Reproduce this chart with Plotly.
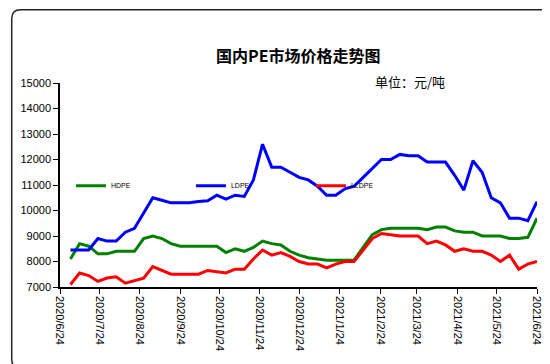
import pandas as pd
import plotly.graph_objects as go

# Weekly dates (Thursdays) from 2020-07-02 to 2021-06-24
dates = pd.date_range("2020-07-02", "2021-06-24", freq="7D").strftime("%Y-%m-%d").tolist()

hdpe = [8100, 8700, 8600, 8300, 8300, 8400, 8400, 8400, 8900, 9000,
        8900, 8700, 8600, 8600, 8600, 8600, 8600, 8350, 8500, 8400,
        8550, 8800, 8700, 8650, 8400, 8250, 8150, 8100, 8050, 8050,
        8050, 8050, 8550, 9050, 9250, 9300, 9300, 9300, 9300, 9250,
        9350, 9350, 9200, 9150, 9150, 9000, 9000, 9000, 8900, 8900,
        8950, 9700]

ldpe = [8450, 8450, 8450, 8900, 8800, 8800, 9150, 9300, 9900, 10500,
        10400, 10300, 10300, 10300, 10350, 10380, 10600, 10450, 10600, 10550,
        11200, 12600, 11700, 11700, 11500, 11300, 11200, 10950, 10600, 10600,
        10850, 10950, 11300, 11650, 12000, 12000, 12200, 12150, 12150, 11900,
        11900, 11900, 11380, 10800, 11950, 11500, 10500, 10300, 9700, 9700,
        9600, 10350]

lldpe = [7100, 7550, 7450, 7220, 7350, 7400, 7150, 7250, 7350, 7800,
         7650, 7500, 7500, 7500, 7500, 7650, 7600, 7550, 7700, 7700,
         8100, 8450, 8250, 8350, 8200, 8000, 7900, 7900, 7750, 7900,
         8000, 8000, 8450, 8900, 9100, 9050, 9000, 9000, 9000, 8700,
         8800, 8650, 8400, 8500, 8400, 8400, 8250, 8000, 8250, 7700,
         7900, 8000]

series_names = ["HDPE", "LDPE", "LLDPE"]
series_colors = ["#008000", "#0000FF", "#FF0000"]
title_text = "国内PE市场价格走势图"
unit_text = "单位：元/吨"
y_ticks = [7000, 8000, 9000, 10000, 11000, 12000, 13000, 14000, 15000]

W, H = 550, 364
L, R, T, B = 50, 21, 75, 84.5
pw = W - L - R
ph = H - T - B

def px(x):
    return (x - L) / pw

def py(y):
    return (H - B - y) / ph

fig = go.Figure()
for name, vals, col in zip(series_names, [hdpe, ldpe, lldpe], series_colors):
    fig.add_trace(go.Scatter(x=dates, y=vals, mode="lines", name=name,
                             line=dict(color=col, width=3)))

# rounded outer frame
x0, x1 = px(1.5), px(547)
y0, y1 = py(361), py(1.5)
rx, ry = 9 / pw, 9 / ph
path = (f"M {x0+rx},{y1} L {x1-rx},{y1} Q {x1},{y1} {x1},{y1-ry} "
        f"L {x1},{y0+ry} Q {x1},{y0} {x1-rx},{y0} L {x0+rx},{y0} "
        f"Q {x0},{y0} {x0},{y0+ry} L {x0},{y1-ry} Q {x0},{y1} {x0+rx},{y1} Z")
fig.add_shape(type="path", path=path, xref="paper", yref="paper",
              line=dict(color="#222222", width=1.5))

fig.add_annotation(text=f"<b>{title_text}</b>", x=px(290), y=py(47), xref="paper", yref="paper",
                   showarrow=False, font=dict(size=16, color="black", family="Noto Sans CJK SC"),
                   xanchor="center", yanchor="middle")
fig.add_annotation(text=unit_text, x=px(401), y=py(73), xref="paper", yref="paper",
                   showarrow=False, font=dict(size=13, color="black", family="Noto Sans CJK SC"),
                   xanchor="center", yanchor="middle")

fig.update_layout(
    width=W, height=H,
    margin=dict(l=L, r=R, t=T, b=B),
    paper_bgcolor="white", plot_bgcolor="white",
    font=dict(family="Liberation Sans, Arial", size=11, color="black"),
    showlegend=True,
    legend=dict(orientation="h", x=px(61), y=py(178), xanchor="left", yanchor="middle",
                bgcolor="rgba(0,0,0,0)", font=dict(size=7, color="black"),
                entrywidth=75, entrywidthmode="pixels", itemwidth=30,
                tracegroupgap=0),
    xaxis=dict(type="date", range=["2020-06-24", "2021-06-24"],
               tick0="2020-06-24", dtick="M1", tickformat="%Y/%-m/%-d",
               tickangle=90, ticks="outside", ticklen=5, tickcolor="black",
               showline=True, linecolor="black", linewidth=1.5,
               showgrid=False, zeroline=False, tickfont=dict(size=11)),
    yaxis=dict(range=[7000, 15000], tickvals=y_ticks, tickformat="d", ticks="outside", ticklen=5,
               tickcolor="black", showline=True, linecolor="black", linewidth=1.5,
               showgrid=False, zeroline=False, tickfont=dict(size=11)),
)

fig.write_html("out.html")
